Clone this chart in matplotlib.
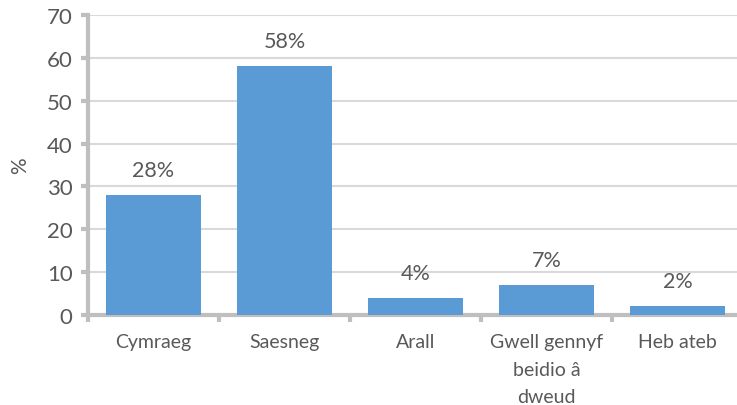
import matplotlib.pyplot as plt

categories = ['Cymraeg', 'Saesneg', 'Arall', 'Gwell gennyf\nbeidio â\ndweud', 'Heb ateb']
values = [28, 58, 4, 7, 2]
value_labels = ['28%', '58%', '4%', '7%', '2%']

plt.rcParams['font.family'] = ['Lato', 'DejaVu Sans']
text_col = '#595959'
axis_col = '#BFBFBF'

fig = plt.figure(figsize=(7.37, 4.06), dpi=100)
ax = fig.add_axes([88 / 737, 90 / 406, 655 / 737, 300 / 406])

x = range(len(categories))
bars = ax.bar(x, values, width=0.72, color='#5B9BD5', zorder=3)

# percentage labels above bars
for b, lab in zip(bars, value_labels):
    ax.annotate(lab, (b.get_x() + b.get_width() / 2, b.get_height()),
                xytext=(0, 18), textcoords='offset points', ha='center', va='center',
                fontsize=15.5, color=text_col)

ax.set_xlim(-0.5, 4.5)
ax.set_ylim(0, 70)
ax.set_yticks(range(0, 71, 10))
ax.yaxis.grid(True, color='#D9D9D9', linewidth=1.5, zorder=0)

ax.set_xticks(list(x))
ax.set_xticklabels(categories, fontsize=14, color=text_col, linespacing=1.75)
ax.set_xticks([i - 0.5 for i in range(len(categories) + 1)], minor=True)
ax.tick_params(axis='x', which='major', length=0, pad=13)
ax.tick_params(axis='x', which='minor', length=5, width=3, color=axis_col)
ax.tick_params(axis='y', length=5, width=3, color=axis_col, labelsize=16,
               labelcolor=text_col, pad=6)

for s in ['top', 'right']:
    ax.spines[s].set_visible(False)
for s in ['left', 'bottom']:
    ax.spines[s].set_color(axis_col)
    ax.spines[s].set_linewidth(3)

ax.set_ylabel('%', fontsize=15, color=text_col, labelpad=12)

fig.savefig('out.png', dpi=100)
